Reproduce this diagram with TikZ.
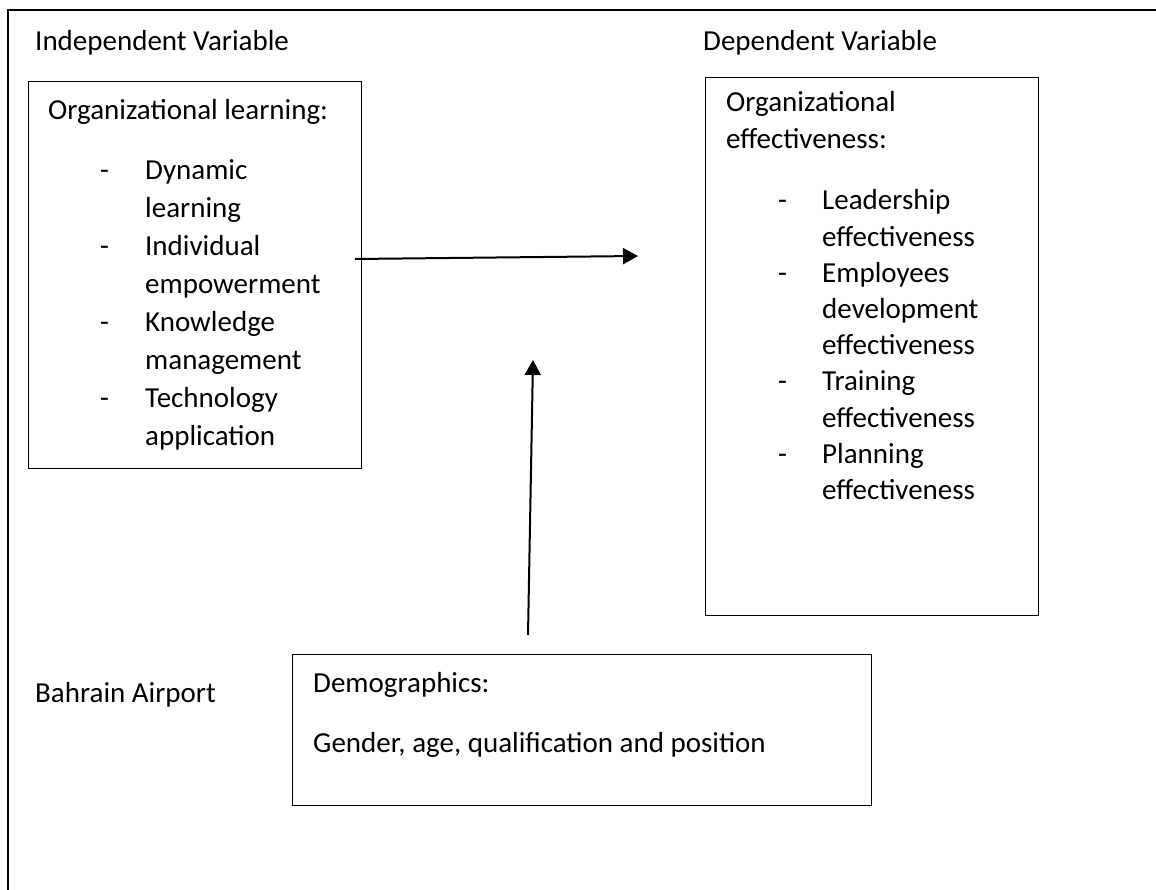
\documentclass[tikz,border=0pt]{standalone}
\usepackage{fontspec}
\setmainfont{Carlito}
\usetikzlibrary{arrows.meta,positioning}

\begin{document}
\begin{tikzpicture}[
        x=1pt, y=-1pt,
        every node/.style={font=\fontsize{29}{38}\selectfont, inner sep=0pt, anchor=base west},
        frame/.style={draw, line width=1.4pt},
        varbox/.style={draw, line width=1.4pt, anchor=north west},
        link/.style={line width=2pt, -{Triangle[length=15pt,width=16pt]}}
        ]
        \useasboundingbox (0,0) rectangle (1156,890);
        \clip (0,0) rectangle (1156,890);
        % outer frame, runs off the page on the right and at the bottom
        \draw[frame] (8,900) -- (8,10) -- (1170,10);

        \node (ivlabel) at (35,51) {Independent Variable};
        \node (dvlabel) at (703,51) {Dependent Variable};
        \node (airport) at (35,702) {Bahrain Airport};

        % independent variable
        \node[varbox, minimum width=333pt, minimum height=387pt] (learning) at (28,81) {};
        \node (learnitems) at ([xshift=20pt, yshift=-39pt]learning.north west) {%
            \begin{tabular}[t]{@{}p{52pt}@{}p{45pt}@{}l@{}}
            \multicolumn{3}{@{}l@{}}{Organizational learning:} \\[22pt]
            & - & Dynamic \\
            & & learning \\
            & - & Individual \\
            & & empowerment \\
            & - & Knowledge \\
            & & management \\
            & - & Technology \\
            & & application
            \end{tabular}};

        % dependent variable
        \node[varbox, minimum width=333pt, minimum height=538pt] (effect) at (705,77) {};
        \node[font=\fontsize{29}{36.2}\selectfont] (effectitems) at ([xshift=21pt, yshift=-35pt]effect.north west) {%
            \begin{tabular}[t]{@{}p{52pt}@{}p{44pt}@{}l@{}}
            \multicolumn{3}{@{}l@{}}{Organizational} \\
            \multicolumn{3}{@{}l@{}}{effectiveness:} \\[25.6pt]
            & - & Leadership \\
            & & effectiveness \\
            & - & Employees \\
            & & development \\
            & & effectiveness \\
            & - & Training \\
            & & effectiveness \\
            & - & Planning \\
            & & effectiveness
            \end{tabular}};

        % moderating box
        \node[varbox, minimum width=579pt, minimum height=151pt] (demo) at (292,654) {};
        \node (demohead) at ([xshift=21pt, yshift=-38pt]demo.north west) {Demographics:};
        \node (demolist) at ([yshift=-60pt]demohead.base west) {Gender, age, qualification and position};

        % arrows
        \coordinate (hstart) at (355,259);
        \coordinate (hend) at (638,256);
        \coordinate (vstart) at (528,635);
        \coordinate (vend) at (533,360);
        \draw[link] (hstart) -- (hend);
        \draw[link] (vstart) -- (vend);
    \end{tikzpicture}
\end{document}
